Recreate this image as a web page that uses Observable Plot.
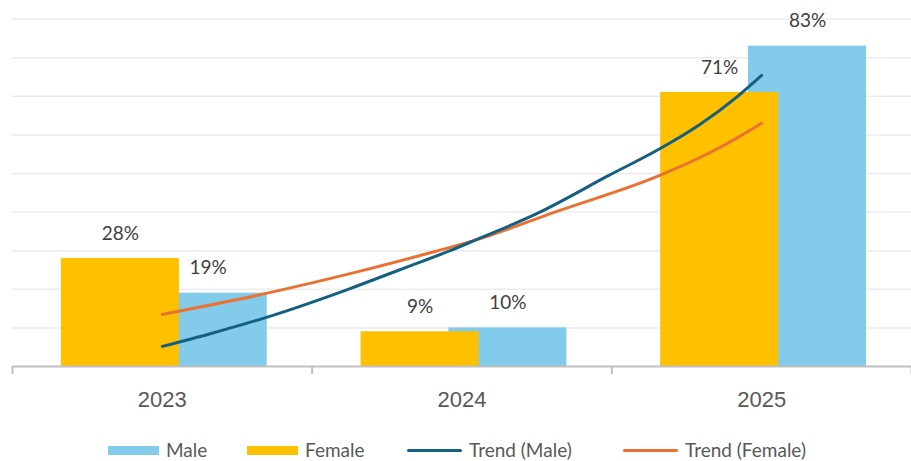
<!DOCTYPE html>
<html>
<head>
<meta charset="utf-8">
<script src="https://cdn.jsdelivr.net/npm/d3@7"></script>
<script src="https://cdn.jsdelivr.net/npm/@observablehq/plot@0.6"></script>
<style>
  html, body { margin: 0; padding: 0; background: #fff; }
  body { position: relative; width: 911px; height: 461px; font-family: Lato, "Open Sans", sans-serif; }
  #legend { position: absolute; top: 437.5px; left: 0; width: 911px; height: 23px; }
  .item { position: absolute; top: 0; height: 23px; display: flex; align-items: center; color: #595959; font-size: 19px; }
  .item .lbl { display: block; line-height: 23px; white-space: nowrap; }
  .sw { width: 51px; height: 9px; margin-right: 7px; margin-top: 2px; }
  .ln { width: 55px; height: 3px; border-radius: 2px; margin-right: 7px; margin-top: 2px; }
</style>
</head>
<body>
<div id="chart"></div>
<div id="legend"></div>
<script>
// ---- data ----
const years = ["2023", "2024", "2025"];
const male = [19, 10, 83];
const female = [28, 9, 71];
const gridValues = [10, 20, 30, 40, 50, 60, 70, 80, 90];
// trend lines (category position, percent)
const trendMalePos = [0.0, 0.16, 0.35, 0.62, 0.79, 0.96, 1.04, 1.26, 1.49, 1.66, 1.79, 1.92, 2.0];
const trendMaleVal = [5.2, 8.5, 12.8, 20, 25, 30, 32.6, 40, 49.5, 56.4, 62.5, 70, 75.4];
const trendFemalePos = [0.0, 0.35, 0.66, 0.91, 1.04, 1.31, 1.66, 1.83, 1.92, 2.0];
const trendFemaleVal = [13.5, 19, 24.7, 29.8, 32.6, 40, 49.5, 55.5, 59.3, 63];
const seriesNames = ["Male", "Female", "Trend (Male)", "Trend (Female)"];

// ---- styles ----
const C = { male: "#83CBEB", female: "#FFC000", tMale: "#156082", tFemale: "#E97132" };
const halfW = 0.197, offFemale = -0.14, offMale = 0.153;

const maleRows = years.map((y, i) => ({ i, v: male[i] }));
const femaleRows = years.map((y, i) => ({ i, v: female[i] }));
const tMale = trendMalePos.map((p, k) => ({ p, v: trendMaleVal[k] }));
const tFemale = trendFemalePos.map((p, k) => ({ p, v: trendFemaleVal[k] }));

const chart = Plot.plot({
  width: 911,
  height: 430,
  marginLeft: 12,
  marginRight: 0,
  marginTop: 18.6,
  marginBottom: 64,
  x: { domain: [-0.5, 2.5], axis: null, label: null },
  y: { domain: [0, 90], axis: null, label: null },
  marks: [
    Plot.ruleY(gridValues, { stroke: "#EBEBEB", strokeWidth: 1.5 }),
    Plot.rectY(maleRows, { x1: d => d.i + offMale - halfW, x2: d => d.i + offMale + halfW, y1: 0, y2: "v", fill: C.male }),
    Plot.rectY(femaleRows, { x1: d => d.i + offFemale - halfW, x2: d => d.i + offFemale + halfW, y1: 0, y2: "v", fill: C.female }),
    Plot.ruleY([0], { stroke: "#BFBFBF", strokeWidth: 2 }),
    Plot.axisX({ ticks: [-0.5, 0.5, 1.5, 2.5], tickFormat: () => "", tickSize: 8, stroke: "#BFBFBF", strokeWidth: 2, anchor: "bottom", label: null }),
    Plot.text(years, { x: (d, i) => i, y: 0, text: d => d, dy: 33, fontSize: 22, fill: "#595959", fontFamily: "Liberation Sans", lineAnchor: "middle", style: "letter-spacing:1.5px" }),
    Plot.line(tFemale, { x: "p", y: "v", stroke: C.tFemale, strokeWidth: 3, curve: "monotone-x", strokeLinecap: "round" }),
    Plot.line(tMale, { x: "p", y: "v", stroke: C.tMale, strokeWidth: 3, curve: "monotone-x", strokeLinecap: "round" }),
    Plot.text(femaleRows, { x: d => d.i + offFemale, y: "v", text: d => d.v + "%", dy: -25, fontSize: 19, fill: "#404040", fontFamily: "Lato", lineAnchor: "middle" }),
    Plot.text(maleRows, { x: d => d.i + offMale, y: "v", text: d => d.v + "%", dy: -25, fontSize: 19, fill: "#404040", fontFamily: "Lato", lineAnchor: "middle" })
  ]
});
document.getElementById("chart").appendChild(chart);

// ---- legend ----
const legend = document.getElementById("legend");
const legendLeft = [108, 247, 407, 623];
const legendKinds = [["sw", C.male], ["sw", C.female], ["ln", C.tMale], ["ln", C.tFemale]];
seriesNames.forEach((name, k) => {
  const item = document.createElement("div");
  item.className = "item";
  item.style.left = legendLeft[k] + "px";
  const mark = document.createElement("span");
  mark.className = legendKinds[k][0];
  mark.style.background = legendKinds[k][1];
  const label = document.createElement("span");
  label.className = "lbl";
  label.textContent = name;
  item.appendChild(mark);
  item.appendChild(label);
  legend.appendChild(item);
});
</script>
</body>
</html>
